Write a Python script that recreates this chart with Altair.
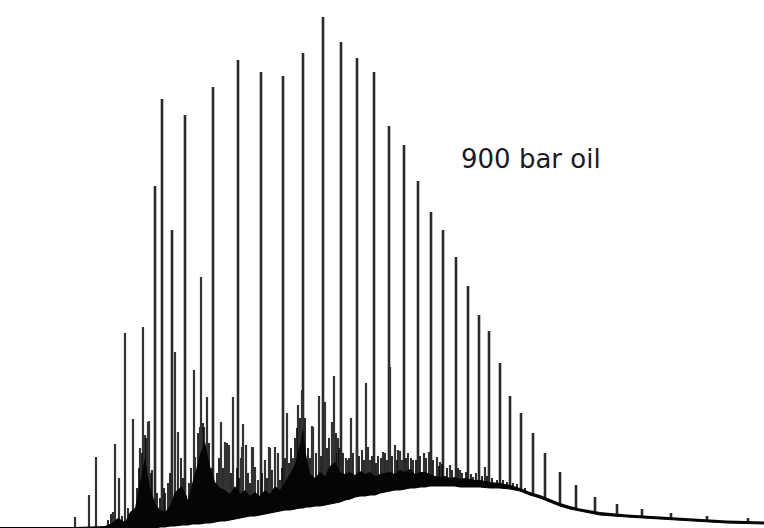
import altair as alt
import pandas as pd

# Retention position (arbitrary units) and detector signal
major_rt = [155, 162, 172, 185, 213, 238, 261, 283, 303, 323, 341, 357, 374, 389,
            404, 418, 431, 443, 456, 468, 479, 489, 500, 510, 521, 533, 545, 560,
            576, 595, 617, 642, 671, 707, 748]
major_sig = [342, 429, 298, 413, 441, 468, 456, 452, 475, 511, 486, 470, 456, 402,
             383, 347, 316, 298, 271, 242, 213, 197, 165, 132, 115, 95, 75, 56,
             43, 31, 24, 19, 15, 12, 10]

minor_rt = [75, 89, 96, 113, 115, 119, 125, 133, 143, 149, 175, 178, 194, 201, 207,
            221, 227, 233, 243, 246, 252, 265, 269, 275, 278, 287, 293, 298, 302,
            312, 319, 325, 332, 334, 338, 346, 351, 366, 368, 383, 390, 400, 413,
            424, 429, 437, 450, 485,
            204, 225, 229, 241, 253, 255, 270, 313, 337, 347, 357, 370, 387, 395,
            140, 145, 148, 152, 165, 186, 195, 200, 214, 242, 398, 402, 440, 460, 473]
minor_sig = [11, 33, 71, 16, 84, 50, 195, 109, 201, 107, 176, 96, 158, 251, 131,
             106, 85, 131, 104, 83, 81, 68, 81, 81, 75, 115, 70, 123, 138,
             102, 132, 126, 106, 152, 90, 70, 110, 145, 81, 76, 161, 77, 68,
             75, 76, 71, 63, 61,
             101, 86, 83, 70, 81, 61, 80, 101, 75, 68, 78, 68, 68, 83,
             80, 93, 106, 58, 35, 33, 71, 101, 41, 81, 78, 68, 66, 58, 51]

# Dense unresolved "grass" spikes on top of the hump
grass_rt = [108, 111, 122, 128, 137, 139, 142, 146, 151, 157, 160, 164, 168, 170,
            181, 183, 189, 191, 198, 203, 209, 212, 217, 219, 223, 231, 237, 239,
            248, 250, 258, 262, 267, 272, 280, 282, 285, 289, 291, 295, 297, 300,
            305, 308, 310, 316, 321, 327, 329, 336, 339, 343, 349, 353, 359, 362,
            364, 372, 376, 378, 381, 385, 392, 397, 406, 408, 411, 416, 420, 426,
            433, 439, 442, 447, 452, 458, 462, 466, 471, 476, 482, 487, 492, 497,
            503, 507, 513, 517, 525]
grass_sig = [8, 14, 12, 20, 40, 60, 75, 90, 55, 35, 30, 40, 45, 55,
             70, 50, 45, 60, 95, 105, 85, 60, 55, 70, 60, 55, 60, 50,
             55, 45, 48, 55, 50, 58, 48, 60, 70, 65, 80, 90, 100, 110,
             110, 80, 70, 75, 72, 80, 90, 95, 80, 75, 70, 75, 72, 78,
             68, 72, 65, 72, 70, 75, 72, 68, 70, 75, 70, 68, 72, 70,
             68, 62, 64, 60, 58, 60, 55, 56, 54, 55, 52, 52, 50, 48,
             48, 46, 45, 44, 40]

# Unresolved hump: lower and upper edge of the solid signal band
band_rt = [0, 75, 105, 112, 118, 125, 130, 135, 140, 145, 150, 155, 160, 165, 170,
           175, 182, 188, 192, 196, 200, 205, 210, 215, 220, 225, 230, 235, 240,
           245, 250, 255, 260, 265, 270, 275, 280, 285, 290, 295, 300, 303, 306,
           310, 315, 320, 325, 330, 335, 340, 345, 350, 355, 360, 365, 370, 375,
           380, 385, 390, 395, 400, 405, 410, 415, 420, 425, 430, 435, 440, 445,
           450, 455, 460, 465, 470, 475, 480, 490, 500, 510, 520, 530, 540, 550,
           560, 570, 580, 600, 627, 660, 693, 727, 764]
band_low = [0, 0, 0, 0, 0, 0, 0, 0, 0, 0, 0, 0, 1, 1, 2,
            2, 3, 3, 4, 4, 4, 5, 5, 6, 7, 7, 8, 9, 10,
            11, 12, 12, 13, 14, 15, 16, 17, 18, 18, 19, 20, 20, 21,
            21, 22, 22, 23, 24, 25, 26, 28, 29, 31, 32, 32, 33, 33,
            35, 36, 37, 38, 38, 39, 40, 40, 41, 41, 42, 42, 42, 42,
            42, 42, 41, 41, 41, 41, 41, 40, 40, 39, 37, 33, 30, 26,
            22, 19, 17, 13, 11, 9, 7, 5, 4]
band_high = [1, 1, 2, 5, 10, 6, 16, 20, 45, 70, 40, 25, 18, 16, 22,
             36, 42, 28, 44, 58, 74, 86, 62, 46, 40, 38, 34, 42, 34,
             38, 32, 36, 32, 38, 34, 42, 38, 46, 54, 64, 84, 100, 74,
             54, 50, 56, 52, 62, 66, 56, 54, 56, 53, 57, 54, 56, 52,
             54, 55, 56, 54, 58, 56, 59, 54, 56, 56, 54, 52, 51, 52,
             50, 51, 49, 50, 49, 48, 48, 46, 45, 43, 40, 36, 33, 29,
             25, 22, 19.5, 16, 13.5, 11.5, 9.5, 7.5, 6.5]

label = "900 bar oil"

majors = pd.DataFrame({"rt": major_rt, "signal": major_sig})
minors = pd.DataFrame({"rt": minor_rt, "signal": minor_sig})
grass = pd.DataFrame({"rt": grass_rt, "signal": grass_sig})
band = pd.DataFrame({"rt": band_rt, "low": band_low, "high": band_high})

xs = alt.Scale(domain=[0, 764], nice=False, zero=False)
ys = alt.Scale(domain=[0, 528], nice=False, zero=True)


def spikes(df, color, width):
    return alt.Chart(df).mark_rule(color=color, strokeWidth=width).encode(
        x=alt.X("rt:Q", scale=xs, axis=None),
        y=alt.Y("signal:Q", scale=ys, axis=None),
        y2=alt.datum(0),
    )


major_layer = spikes(majors, "#2a2a2a", 2.6)
minor_layer = spikes(minors, "#333333", 2.2)
grass_layer = spikes(grass, "#0a0a0a", 1.7)

mask = alt.Chart(band).mark_area(color="white", opacity=1, interpolate="linear").encode(
    x=alt.X("rt:Q", scale=xs, axis=None),
    y=alt.Y("low:Q", scale=ys, axis=None),
    y2=alt.datum(-5),
)
hump = alt.Chart(band).mark_area(color="#050505", opacity=1, interpolate="linear").encode(
    x=alt.X("rt:Q", scale=xs, axis=None),
    y=alt.Y("high:Q", scale=ys, axis=None),
    y2=alt.Y2("low:Q"),
)
edge = alt.Chart(band).mark_line(color="#050505", strokeWidth=1.2).encode(
    x=alt.X("rt:Q", scale=xs, axis=None),
    y=alt.Y("low:Q", scale=ys, axis=None),
)
text = alt.Chart(pd.DataFrame({"t": [label]})).mark_text(
    align="left", baseline="alphabetic", font="DejaVu Sans", fontSize=26, color="#1a1a26"
).encode(x=alt.value(461), y=alt.value(168), text="t:N")

chart = alt.layer(major_layer, minor_layer, grass_layer, mask, hump, edge, text).properties(
    width=764, height=528, padding=0, autosize=alt.AutoSizeParams(type="none"),
    background="white"
).configure_view(stroke=None)

chart.save("out.html", embed_options={"renderer": "svg", "actions": False})
